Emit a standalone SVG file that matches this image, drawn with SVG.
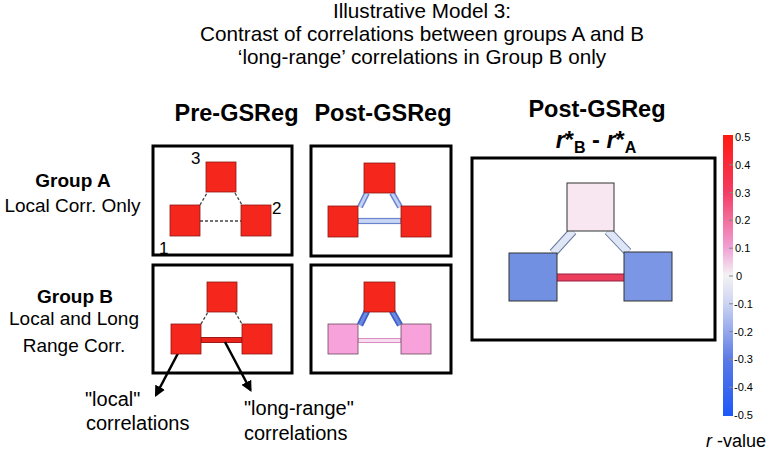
<svg xmlns="http://www.w3.org/2000/svg" width="771" height="452" viewBox="0 0 771 452">
<defs>
<style>
text{font-family:"Liberation Sans",Arial,sans-serif;fill:#000}
.title{font-size:20.7px;text-anchor:middle}
.hdr{font-size:23.5px;font-weight:bold;text-anchor:middle}
.grp{font-size:19px;font-weight:bold;text-anchor:middle}
.sub{font-size:19px;text-anchor:middle}
.lbl{font-size:20px}
.num{font-size:17px}
.tick{font-size:11px}
.panel{fill:#fff;stroke:#000;stroke-width:3}
.red{fill:#f5261c;stroke:#8a1a14;stroke-width:0.8}
.pink{fill:#f7a2da;stroke:#6a4a60;stroke-width:0.8}
.dash{stroke:#444;stroke-width:1.3;stroke-dasharray:3 2;fill:none}
.arrow{stroke:#000;stroke-width:2.5;fill:none;marker-end:url(#ah)}
</style>
<marker id="ah" viewBox="0 0 10 10" refX="8" refY="5" markerWidth="4.4" markerHeight="4.4" orient="auto">
<path d="M0,0 L10,5 L0,10 z" fill="#000"/>
</marker>
<linearGradient id="cbar" x1="0" y1="0" x2="0" y2="1">
<stop offset="0" stop-color="#ff1a10"/>
<stop offset="0.2" stop-color="#f43a62"/>
<stop offset="0.4" stop-color="#f0a0d4"/>
<stop offset="0.5" stop-color="#f4f2f4"/>
<stop offset="0.6" stop-color="#ccd4f2"/>
<stop offset="0.8" stop-color="#5a7ae6"/>
<stop offset="1" stop-color="#1c58f8"/>
</linearGradient>
</defs>
<rect width="771" height="452" fill="#fff"/>

<g id="title">
<text class="title" x="422" y="18">Illustrative Model 3:</text>
<text class="title" x="422" y="41">Contrast of correlations between groups A and B</text>
<text class="title" x="422" y="64">‘long-range’ correlations in Group B only</text>
</g>

<g id="headers">
<text class="hdr" x="236.5" y="121">Pre-GSReg</text>
<text class="hdr" x="383" y="121">Post-GSReg</text>
<text class="hdr" x="597" y="117">Post-GSReg</text>
<text class="hdr" x="596" y="148"><tspan font-style="italic">r</tspan>*<tspan font-size="16" dy="5">B</tspan><tspan dy="-5"> - </tspan><tspan font-style="italic">r</tspan>*<tspan font-size="16" dy="5">A</tspan></text>
</g>

<g id="row-labels">
<text class="grp" x="73" y="187">Group A</text>
<text class="sub" x="72.5" y="212">Local Corr. Only</text>
<text class="grp" x="75" y="303">Group B</text>
<text class="sub" x="74" y="325">Local and Long</text>
<text class="sub" x="74" y="352">Range Corr.</text>
</g>

<g id="panels">
<rect id="panel-A-pre" class="panel" x="153" y="146" width="139" height="109"/>
<rect id="panel-A-post" class="panel" x="311" y="146" width="140" height="110"/>
<rect id="panel-B-pre" class="panel" x="153" y="265" width="139" height="108"/>
<rect id="panel-B-post" class="panel" x="311" y="265" width="140" height="108"/>
<rect id="panel-diff" class="panel" x="472" y="158" width="243" height="182"/>
</g>

<g id="connectors">
<line class="dash" x1="200" y1="205" x2="207" y2="193"/>
<line class="dash" x1="235" y1="193" x2="242" y2="205"/>
<line class="dash" x1="200" y1="221" x2="241" y2="221"/>
<line x1="360" y1="207" x2="367" y2="193" stroke="#6a84d0" stroke-width="6"/>
<line x1="360" y1="207" x2="367" y2="193" stroke="#c4d2f2" stroke-width="3"/>
<line x1="392" y1="193" x2="400" y2="207" stroke="#6a84d0" stroke-width="6"/>
<line x1="392" y1="193" x2="400" y2="207" stroke="#c4d2f2" stroke-width="3"/>
<rect x="358" y="218.5" width="43" height="5" fill="#c8d6f4" stroke="#6a84d0" stroke-width="1.2"/>
<line class="dash" x1="201" y1="324" x2="208" y2="312"/>
<line class="dash" x1="235" y1="312" x2="242" y2="324"/>
<rect x="201" y="337.5" width="41" height="5" fill="#e8241c" stroke="#a01818" stroke-width="1"/>
<line x1="360" y1="325" x2="367" y2="311" stroke="#3e5ec8" stroke-width="6.5"/>
<line x1="360" y1="325" x2="367" y2="311" stroke="#6e8ae0" stroke-width="3"/>
<line x1="392" y1="311" x2="400" y2="325" stroke="#3e5ec8" stroke-width="6.5"/>
<line x1="392" y1="311" x2="400" y2="325" stroke="#6e8ae0" stroke-width="3"/>
<rect x="358" y="338.5" width="43" height="4" fill="#f8dcef" stroke="#d890c0" stroke-width="1"/>
<line x1="553" y1="253" x2="573" y2="231" stroke="#66779e" stroke-width="9"/>
<line x1="553" y1="253" x2="573" y2="231" stroke="#dfe6f6" stroke-width="7"/>
<line x1="608" y1="231" x2="628" y2="252" stroke="#66779e" stroke-width="9"/>
<line x1="608" y1="231" x2="628" y2="252" stroke="#dfe6f6" stroke-width="7"/>
<rect x="556" y="274" width="69" height="7" fill="#ea3e5c" stroke="#9a2040" stroke-width="1"/>
<line class="arrow" x1="185" y1="340" x2="156" y2="395"/>
<line class="arrow" x1="225" y1="342" x2="250.5" y2="390"/>
</g>

<g id="node-A1"><rect class="red" x="170" y="205" width="30" height="31"/></g>
<g id="node-A2"><rect class="red" x="241" y="205" width="30" height="31"/></g>
<g id="node-A3"><rect class="red" x="206" y="162" width="30" height="30"/></g>
<g id="node-labels">
<text class="num" x="191" y="164">3</text>
<text class="num" x="272" y="214">2</text>
<text class="num" x="159" y="254">1</text>
</g>

<g id="node-A1-post"><rect class="red" x="328" y="206" width="30" height="31"/></g>
<g id="node-A2-post"><rect class="red" x="401" y="206" width="30" height="31"/></g>
<g id="node-A3-post"><rect class="red" x="364" y="163" width="31" height="30"/></g>

<g id="node-B1"><rect class="red" x="171" y="324" width="30" height="30"/></g>
<g id="node-B2"><rect class="red" x="242" y="324" width="30" height="30"/></g>
<g id="node-B3"><rect class="red" x="207" y="282" width="30" height="30"/></g>

<g id="node-B1-post"><rect class="pink" x="328" y="324" width="30" height="30"/></g>
<g id="node-B2-post"><rect class="pink" x="401" y="324" width="30" height="30"/></g>
<g id="node-B3-post"><rect class="red" x="364" y="282" width="31" height="30"/></g>

<g id="node-diff-1"><rect x="509" y="253" width="48" height="48" fill="#7290e2" stroke="#333" stroke-width="1"/></g>
<g id="node-diff-2"><rect x="624" y="252" width="48" height="49" fill="#7a96e4" stroke="#333" stroke-width="1"/></g>
<g id="node-diff-3"><rect x="567" y="183" width="47" height="48" fill="#f8e6f0" stroke="#333" stroke-width="1"/></g>

<g id="annotations">
<text class="lbl" x="85" y="406">"local"</text>
<text class="lbl" x="86" y="430">correlations</text>
<text class="lbl" x="244" y="415">"long-range"</text>
<text class="lbl" x="244" y="440">correlations</text>
</g>

<g id="colorbar">
<rect x="723" y="135" width="10" height="281" fill="url(#cbar)"/>
<g stroke="#888" stroke-width="1">
<line x1="729" y1="164.8" x2="733" y2="164.8"/>
<line x1="729" y1="192.6" x2="733" y2="192.6"/>
<line x1="729" y1="220.4" x2="733" y2="220.4"/>
<line x1="729" y1="248.2" x2="733" y2="248.2"/>
<line x1="729" y1="276" x2="733" y2="276"/>
<line x1="729" y1="303.8" x2="733" y2="303.8"/>
<line x1="729" y1="331.6" x2="733" y2="331.6"/>
<line x1="729" y1="359.4" x2="733" y2="359.4"/>
<line x1="729" y1="387.2" x2="733" y2="387.2"/>
</g>
<text class="tick" x="735" y="141">0.5</text>
<text class="tick" x="735" y="169">0.4</text>
<text class="tick" x="735" y="196.6">0.3</text>
<text class="tick" x="735" y="224.4">0.2</text>
<text class="tick" x="735" y="252.2">0.1</text>
<text class="tick" x="736" y="280">0</text>
<text class="tick" x="734" y="307.8">-0.1</text>
<text class="tick" x="734" y="335.6">-0.2</text>
<text class="tick" x="734" y="363.4">-0.3</text>
<text class="tick" x="734" y="391.2">-0.4</text>
<text class="tick" x="734" y="419">-0.5</text>
<text x="706" y="447" font-size="18"><tspan font-style="italic">r</tspan> -value</text>
</g>
</svg>
